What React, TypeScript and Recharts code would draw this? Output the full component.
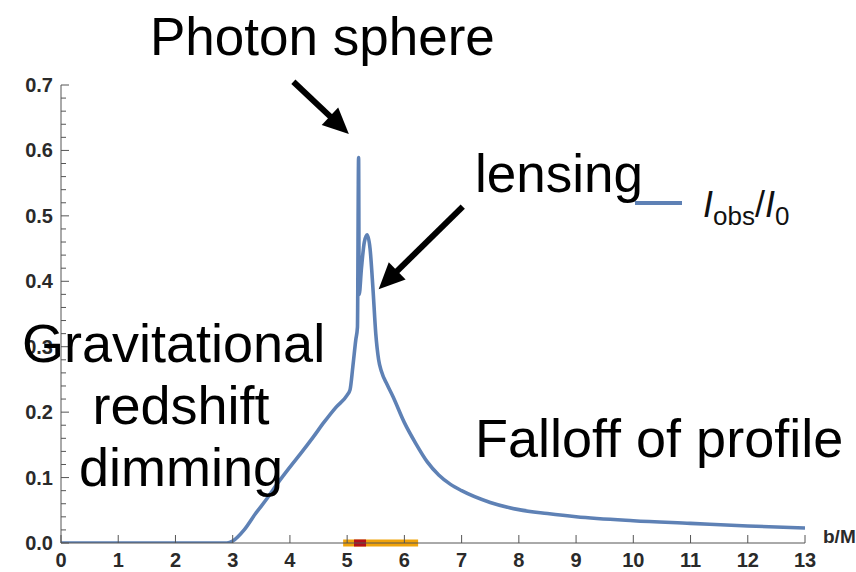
import React from "react";
import { LineChart, Line, XAxis, YAxis, ReferenceLine } from "recharts";

// impact parameter b/M
const impactParam = [
  0, 1, 2, 2.9, 3.0, 3.2, 3.4, 3.6, 3.8, 4.0, 4.2, 4.4, 4.6, 4.8, 5.0, 5.05, 5.1, 5.15, 5.18,
  5.2, 5.21, 5.25, 5.3, 5.35, 5.4, 5.45, 5.5, 5.55, 5.6, 5.7, 5.8, 6.0, 6.2, 6.4, 6.6, 6.8, 7.0,
  7.5, 8.0, 8.5, 9.0, 10, 11, 12, 13,
];
// observed intensity I_obs / I_0
const observedIntensity = [
  0, 0, 0, 0, 0.003, 0.02, 0.045, 0.068, 0.093, 0.116, 0.138, 0.161, 0.185, 0.207, 0.226, 0.234,
  0.27, 0.31, 0.33, 0.589, 0.38, 0.42, 0.46, 0.471, 0.45, 0.39, 0.32, 0.28, 0.262, 0.242, 0.224,
  0.184, 0.152, 0.124, 0.104, 0.09, 0.08, 0.062, 0.051, 0.045, 0.04, 0.034, 0.03, 0.026, 0.023,
];

const xTicks = [0, 1, 2, 3, 4, 5, 6, 7, 8, 9, 10, 11, 12, 13];
const yMajorTicks = [0, 0.1, 0.2, 0.3, 0.4, 0.5, 0.6, 0.7];
const yTickLabels = ["0.0", "0.1", "0.2", "0.3", "0.4", "0.5", "0.6", "0.7"];

// highlighted ranges on the b axis
const photonRingRange = [4.93, 6.24];
const lensingRange = [5.12, 5.33];

// annotation arrows: [tail, head] in data coords
const photonArrow = [
  { x: 4.06, y: 0.705 },
  { x: 5.03, y: 0.625 },
];
const lensingArrow = [
  { x: 7.02, y: 0.514 },
  { x: 5.55, y: 0.388 },
];

const data = impactParam.map((b, i) => ({ b, v: observedIntensity[i] }));

const yTicks: number[] = [];
yMajorTicks.forEach((t, i) => {
  if (i === yMajorTicks.length - 1) {
    yTicks.push(t);
    return;
  }
  for (let k = 0; k < 5; k++) yTicks.push(Math.round((t + k * 0.02) * 100) / 100);
});

const BLUE = "#5E81B5";
const AXIS = "#555";
const FONT = "'Liberation Sans', Arial, Helvetica, sans-serif";

const YTick = (props: any) => {
  const { x, y, payload } = props;
  const val = payload.value;
  const majorIdx = yMajorTicks.findIndex((m) => Math.abs(m - val) < 1e-6);
  const major = majorIdx >= 0;
  return (
    <g>
      <line x1={x} x2={x + (major ? 8 : 5)} y1={y} y2={y} stroke={AXIS} strokeWidth={1} />
      {major && (
        <text
          x={x - 8}
          y={y + 7}
          textAnchor="end"
          fontSize={20}
          fontWeight="bold"
          fill="#2a2a2a"
          fontFamily={FONT}
        >
          {yTickLabels[majorIdx]}
        </text>
      )}
    </g>
  );
};

const XTick = (props: any) => {
  const { x, y, payload } = props;
  return (
    <g>
      <line x1={x} x2={x} y1={y} y2={y - 8} stroke={AXIS} strokeWidth={1} />
      <text
        x={x}
        y={y + 24}
        textAnchor="middle"
        fontSize={20}
        fontWeight="bold"
        fill="#2a2a2a"
        fontFamily={FONT}
      >
        {payload.value}
      </text>
    </g>
  );
};

const Arrow = (props: any) => {
  const { x1, y1, x2, y2 } = props;
  const dx = x2 - x1;
  const dy = y2 - y1;
  const len = Math.sqrt(dx * dx + dy * dy);
  const ux = dx / len;
  const uy = dy / len;
  const headLen = 26;
  const headW = 12;
  const bx = x2 - ux * headLen;
  const by = y2 - uy * headLen;
  const px = -uy;
  const py = ux;
  return (
    <g>
      <line x1={x1} y1={y1} x2={bx + ux * 2} y2={by + uy * 2} stroke="#000" strokeWidth={6} />
      <polygon
        points={`${x2},${y2} ${bx + px * headW},${by + py * headW} ${bx - px * headW},${by - py * headW}`}
        fill="#000"
      />
    </g>
  );
};

export default function App() {
  return (
    <div style={{ position: "absolute", left: 0, top: 0, width: 856, height: 572, background: "#fff" }}>
      <LineChart
        width={856}
        height={572}
        data={data}
        margin={{ top: 85, right: 51, bottom: 0, left: 11 }}
      >
        <XAxis
          dataKey="b"
          type="number"
          domain={[0, 13]}
          ticks={xTicks}
          interval={0}
          tickSize={0}
          tickMargin={0}
          tickLine={false}
          tick={<XTick />}
          axisLine={{ stroke: AXIS, strokeWidth: 1 }}
          height={29}
        />
        <YAxis
          type="number"
          domain={[0, 0.7]}
          ticks={yTicks}
          interval={0}
          tickSize={0}
          tickMargin={0}
          tickLine={false}
          tick={<YTick />}
          axisLine={{ stroke: AXIS, strokeWidth: 1 }}
          width={50}
          allowDataOverflow
        />
        <ReferenceLine
          segment={[
            { x: photonRingRange[0], y: 0 },
            { x: photonRingRange[1], y: 0 },
          ]}
          stroke="#F0A30A"
          strokeWidth={7}
          ifOverflow="visible"
        />
        <ReferenceLine
          segment={[
            { x: lensingRange[0], y: 0 },
            { x: lensingRange[1], y: 0 },
          ]}
          stroke="#B3101A"
          strokeWidth={7}
          ifOverflow="visible"
        />
        <Line
          dataKey="v"
          type="monotone"
          stroke={BLUE}
          strokeWidth={3.6}
          dot={false}
          isAnimationActive={false}
        />
        <ReferenceLine segment={photonArrow} ifOverflow="visible" shape={Arrow} />
        <ReferenceLine segment={lensingArrow} ifOverflow="visible" shape={Arrow} />
      </LineChart>
      <svg
        width={856}
        height={572}
        style={{ position: "absolute", left: 0, top: 0, pointerEvents: "none" }}
        fontFamily={FONT}
      >
        <text x={150} y={55} fontSize={53} fill="#000">Photon sphere</text>
        <text x={475} y={192} fontSize={53} fill="#000">lensing</text>
        <text x={22} y={362} fontSize={54} fill="#000">Gravitational</text>
        <text x={181} y={424} fontSize={54} fill="#000" textAnchor="middle">redshift</text>
        <text x={181} y={486} fontSize={54} fill="#000" textAnchor="middle">dimming</text>
        <text x={475} y={457} fontSize={54} fill="#000">Falloff of profile</text>
        <text x={823} y={543} fontSize={19} fontWeight="bold" fill="#2a2a2a">b/M</text>
        <line x1={635} x2={682} y1={203} y2={203} stroke={BLUE} strokeWidth={4} />
        <text x={703} y={217} fontSize={36} fill="#111">
          <tspan fontStyle="italic">I</tspan>
          <tspan fontSize={26} dy={8}>obs</tspan>
          <tspan dy={-8}>/</tspan>
          <tspan fontStyle="italic">I</tspan>
          <tspan fontSize={26} dy={8}>0</tspan>
        </text>
      </svg>
    </div>
  );
}
